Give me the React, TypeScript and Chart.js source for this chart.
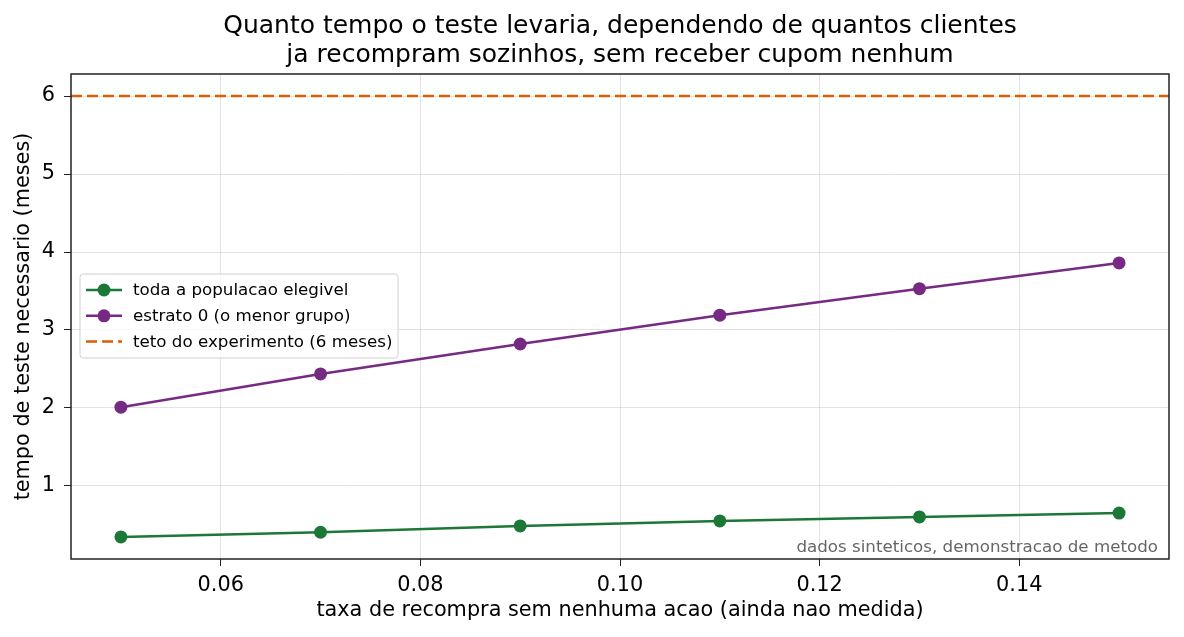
import { useEffect, useRef } from "react";
import Chart from "chart.js/auto";

const taxas = [0.05, 0.07, 0.09, 0.11, 0.13, 0.15];
const populacaoToda = [0.346, 0.406, 0.487, 0.551, 0.603, 0.652];
const estratoZero = [2.01, 2.436, 2.82, 3.19, 3.53, 3.86];
const tetoMeses = 6;
const xTicks = [0.06, 0.08, 0.1, 0.12, 0.14];
const yTicks = [1, 2, 3, 4, 5, 6];
const xLimits = [0.045, 0.155];
const yLimits = [0.063, 6.283];

const titleLines = [
  "Quanto tempo o teste levaria, dependendo de quantos clientes",
  "ja recompram sozinhos, sem receber cupom nenhum",
];
const seriesLabels = [
  "toda a populacao elegivel",
  "estrato 0 (o menor grupo)",
  "teto do experimento (6 meses)",
];

const FONT = "'DejaVu Sans', sans-serif";
const GREEN = "#1b7837";
const PURPLE = "#762a83";
const ORANGE = "#d95f02";

// spines, title, legend box and the note in the corner
const extras = {
  id: "extras",
  afterDraw(chart: any) {
    const { ctx, chartArea } = chart;
    const { left, right, top, bottom } = chartArea;
    ctx.save();

    ctx.strokeStyle = "#222";
    ctx.lineWidth = 1.5;
    ctx.strokeRect(left, top, right - left, bottom - top);

    ctx.fillStyle = "#000";
    ctx.font = `25px ${FONT}`;
    ctx.textAlign = "center";
    ctx.textBaseline = "middle";
    titleLines.forEach((line, i) => {
      ctx.fillText(line, (left + right) / 2, 26.5 + i * 28.5);
    });

    ctx.fillStyle = "#666";
    ctx.font = `16.7px ${FONT}`;
    ctx.textAlign = "right";
    ctx.textBaseline = "alphabetic";
    ctx.fillText("dados sinteticos, demonstracao de metodo", right - 11, bottom - 7);

    // legend
    const bx = left + 9;
    const by = 274;
    const bw = 318;
    const bh = 84;
    ctx.fillStyle = "rgba(255,255,255,0.8)";
    ctx.strokeStyle = "#d0d0d0";
    ctx.lineWidth = 1;
    ctx.beginPath();
    ctx.roundRect(bx, by, bw, bh, 3);
    ctx.fill();
    ctx.stroke();

    ctx.font = `16.7px ${FONT}`;
    ctx.textAlign = "left";
    ctx.textBaseline = "middle";
    chart.data.datasets.forEach((ds: any, i: number) => {
      const cy = by + 16 + i * 25.8;
      ctx.strokeStyle = ds.borderColor;
      ctx.lineWidth = 2.5;
      ctx.setLineDash(ds.borderDash || []);
      ctx.beginPath();
      ctx.moveTo(bx + 6, cy);
      ctx.lineTo(bx + 42, cy);
      ctx.stroke();
      ctx.setLineDash([]);
      if (ds.pointRadius > 0) {
        ctx.fillStyle = ds.backgroundColor;
        ctx.beginPath();
        ctx.arc(bx + 24, cy, 6.5, 0, Math.PI * 2);
        ctx.fill();
      }
      ctx.fillStyle = "#000";
      ctx.fillText(ds.label, bx + 53, cy + 1);
    });

    ctx.restore();
  },
};

export default function App() {
  const canvasRef = useRef<HTMLCanvasElement>(null);

  useEffect(() => {
    document.body.style.margin = "0";
    if (!canvasRef.current) return;

    const chart = new Chart(canvasRef.current, {
      type: "line",
      data: {
        datasets: [
          {
            label: seriesLabels[0],
            data: taxas.map((x, i) => ({ x, y: populacaoToda[i] })),
            borderColor: GREEN,
            backgroundColor: GREEN,
            borderWidth: 2.5,
            pointRadius: 6.5,
            pointBorderWidth: 0,
          },
          {
            label: seriesLabels[1],
            data: taxas.map((x, i) => ({ x, y: estratoZero[i] })),
            borderColor: PURPLE,
            backgroundColor: PURPLE,
            borderWidth: 2.5,
            pointRadius: 6.5,
            pointBorderWidth: 0,
          },
          {
            label: seriesLabels[2],
            data: xLimits.map((x) => ({ x, y: tetoMeses })),
            borderColor: ORANGE,
            backgroundColor: ORANGE,
            borderWidth: 2.5,
            borderDash: [11, 5],
            pointRadius: 0,
          },
        ],
      },
      options: {
        responsive: false,
        animation: false,
        devicePixelRatio: 1,
        layout: { padding: { top: 74, right: 15, left: 0, bottom: 0 } },
        plugins: {
          legend: { display: false },
          title: { display: false },
          tooltip: { enabled: false },
        },
        scales: {
          x: {
            type: "linear",
            min: xLimits[0],
            max: xLimits[1],
            afterBuildTicks: (scale: any) => {
              scale.ticks = xTicks.map((value) => ({ value }));
            },
            afterFit: (scale: any) => {
              scale.height = 78;
            },
            ticks: {
              color: "#000",
              padding: 7,
              font: { family: FONT, size: 20.8 },
              callback: (v: any) => Number(v).toFixed(2),
            },
            grid: {
              color: "rgba(176,176,176,0.35)",
              lineWidth: 1,
              tickLength: 7,
              tickColor: "#222",
            },
            border: { display: false },
            title: {
              display: true,
              text: "taxa de recompra sem nenhuma acao (ainda nao medida)",
              color: "#000",
              font: { family: FONT, size: 20.8 },
              padding: { top: 0, bottom: 14 },
            },
          },
          y: {
            type: "linear",
            min: yLimits[0],
            max: yLimits[1],
            afterBuildTicks: (scale: any) => {
              scale.ticks = yTicks.map((value) => ({ value }));
            },
            afterFit: (scale: any) => {
              scale.width = 71;
            },
            ticks: {
              color: "#000",
              padding: 9,
              font: { family: FONT, size: 20.8 },
            },
            grid: {
              color: "rgba(176,176,176,0.35)",
              lineWidth: 1,
              tickLength: 7,
              tickColor: "#222",
            },
            border: { display: false },
            title: {
              display: true,
              text: "tempo de teste necessario (meses)",
              color: "#000",
              font: { family: FONT, size: 20.8 },
              padding: { top: 11, bottom: 0 },
            },
          },
        },
      },
      plugins: [extras],
    });

    return () => {
      chart.destroy();
    };
  }, []);

  return (
    <div style={{ width: 1184, height: 637, background: "#fff" }}>
      <canvas ref={canvasRef} width={1184} height={637}></canvas>
    </div>
  );
}
